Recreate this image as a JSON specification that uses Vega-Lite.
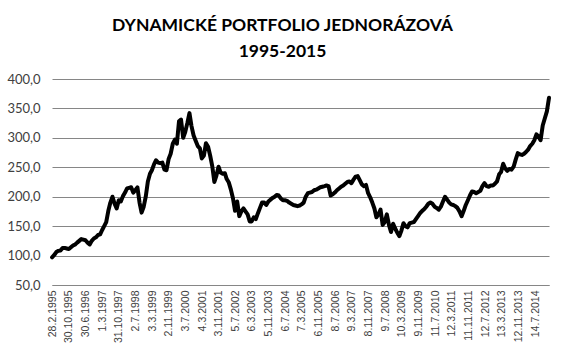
{
  "$schema": "https://vega.github.io/schema/vega-lite/v6.json",
  "autosize": {"type": "none"},
  "padding": {"left": 52, "top": 79, "right": 16, "bottom": 79},
  "width": 497,
  "height": 206,
  "background": "white",
  "config": {"view": {"stroke": null}},
  "title": {
    "text": ["DYNAMICKÉ PORTFOLIO JEDNORÁZOVÁ", "1995-2015"],
    "font": "Lato",
    "fontSize": 17.5,
    "fontWeight": "bold",
    "color": "#000000",
    "anchor": "middle",
    "frame": "group",
    "dx": -18,
    "lineHeight": 26,
    "offset": 13
  },
  "data": {"values": [
    {"date": "1995-02-28", "value": 97},
    {"date": "1995-04-01", "value": 101},
    {"date": "1995-05-01", "value": 106},
    {"date": "1995-06-01", "value": 108},
    {"date": "1995-07-01", "value": 108.5},
    {"date": "1995-08-01", "value": 113},
    {"date": "1995-09-01", "value": 113},
    {"date": "1995-10-01", "value": 112},
    {"date": "1995-11-01", "value": 111},
    {"date": "1995-12-01", "value": 114},
    {"date": "1996-01-01", "value": 117},
    {"date": "1996-02-01", "value": 119},
    {"date": "1996-03-01", "value": 122},
    {"date": "1996-04-01", "value": 125},
    {"date": "1996-05-01", "value": 128},
    {"date": "1996-06-01", "value": 127},
    {"date": "1996-07-01", "value": 126},
    {"date": "1996-08-01", "value": 122},
    {"date": "1996-09-01", "value": 119},
    {"date": "1996-10-01", "value": 125},
    {"date": "1996-11-01", "value": 129},
    {"date": "1996-12-01", "value": 131},
    {"date": "1997-01-01", "value": 135},
    {"date": "1997-02-01", "value": 136},
    {"date": "1997-03-01", "value": 143},
    {"date": "1997-04-01", "value": 150},
    {"date": "1997-05-01", "value": 157},
    {"date": "1997-06-01", "value": 176},
    {"date": "1997-07-01", "value": 190},
    {"date": "1997-08-01", "value": 200},
    {"date": "1997-09-01", "value": 188},
    {"date": "1997-10-01", "value": 180},
    {"date": "1997-11-01", "value": 194},
    {"date": "1997-12-01", "value": 192},
    {"date": "1998-01-01", "value": 201},
    {"date": "1998-02-01", "value": 207},
    {"date": "1998-03-01", "value": 214},
    {"date": "1998-04-01", "value": 215},
    {"date": "1998-05-01", "value": 216},
    {"date": "1998-06-01", "value": 207},
    {"date": "1998-07-01", "value": 211},
    {"date": "1998-08-01", "value": 216},
    {"date": "1998-09-01", "value": 190},
    {"date": "1998-10-01", "value": 173},
    {"date": "1998-11-01", "value": 183},
    {"date": "1998-12-01", "value": 200},
    {"date": "1999-01-01", "value": 226},
    {"date": "1999-02-01", "value": 239},
    {"date": "1999-03-01", "value": 245},
    {"date": "1999-04-01", "value": 255},
    {"date": "1999-05-01", "value": 262},
    {"date": "1999-06-01", "value": 258},
    {"date": "1999-07-01", "value": 257},
    {"date": "1999-08-01", "value": 258},
    {"date": "1999-09-01", "value": 246},
    {"date": "1999-10-01", "value": 245},
    {"date": "1999-11-01", "value": 264},
    {"date": "1999-12-01", "value": 273},
    {"date": "2000-01-01", "value": 290},
    {"date": "2000-02-01", "value": 297},
    {"date": "2000-03-01", "value": 290},
    {"date": "2000-04-01", "value": 328},
    {"date": "2000-05-01", "value": 331},
    {"date": "2000-06-01", "value": 300},
    {"date": "2000-07-01", "value": 310},
    {"date": "2000-08-01", "value": 325},
    {"date": "2000-09-01", "value": 342},
    {"date": "2000-10-01", "value": 320},
    {"date": "2000-11-01", "value": 304},
    {"date": "2000-12-01", "value": 295},
    {"date": "2001-01-01", "value": 286},
    {"date": "2001-02-01", "value": 282},
    {"date": "2001-03-01", "value": 265},
    {"date": "2001-04-01", "value": 270},
    {"date": "2001-05-01", "value": 291},
    {"date": "2001-06-01", "value": 285},
    {"date": "2001-07-01", "value": 270},
    {"date": "2001-08-01", "value": 252},
    {"date": "2001-09-01", "value": 225},
    {"date": "2001-10-01", "value": 236},
    {"date": "2001-11-01", "value": 251},
    {"date": "2001-12-01", "value": 241},
    {"date": "2002-01-01", "value": 239},
    {"date": "2002-02-01", "value": 240},
    {"date": "2002-03-01", "value": 230},
    {"date": "2002-04-01", "value": 224},
    {"date": "2002-05-01", "value": 212},
    {"date": "2002-06-01", "value": 197},
    {"date": "2002-07-01", "value": 176},
    {"date": "2002-08-01", "value": 192},
    {"date": "2002-09-01", "value": 167},
    {"date": "2002-10-01", "value": 175},
    {"date": "2002-11-01", "value": 180},
    {"date": "2002-12-01", "value": 175},
    {"date": "2003-01-01", "value": 170},
    {"date": "2003-02-01", "value": 158},
    {"date": "2003-03-01", "value": 158},
    {"date": "2003-04-01", "value": 165},
    {"date": "2003-05-01", "value": 162},
    {"date": "2003-06-01", "value": 172},
    {"date": "2003-07-01", "value": 181},
    {"date": "2003-08-01", "value": 190},
    {"date": "2003-09-01", "value": 190},
    {"date": "2003-10-01", "value": 186},
    {"date": "2003-11-01", "value": 192},
    {"date": "2003-12-01", "value": 195},
    {"date": "2004-01-01", "value": 198},
    {"date": "2004-02-01", "value": 200},
    {"date": "2004-03-01", "value": 203},
    {"date": "2004-04-01", "value": 202},
    {"date": "2004-05-01", "value": 197},
    {"date": "2004-06-01", "value": 194},
    {"date": "2004-07-01", "value": 194},
    {"date": "2004-08-01", "value": 193},
    {"date": "2004-09-01", "value": 190},
    {"date": "2004-10-01", "value": 188},
    {"date": "2004-11-01", "value": 186},
    {"date": "2004-12-01", "value": 185},
    {"date": "2005-01-01", "value": 184},
    {"date": "2005-02-01", "value": 185},
    {"date": "2005-03-01", "value": 187},
    {"date": "2005-04-01", "value": 190},
    {"date": "2005-05-01", "value": 200},
    {"date": "2005-06-01", "value": 206},
    {"date": "2005-07-01", "value": 207},
    {"date": "2005-08-01", "value": 208},
    {"date": "2005-09-01", "value": 211},
    {"date": "2005-10-01", "value": 212},
    {"date": "2005-11-01", "value": 214},
    {"date": "2005-12-01", "value": 216},
    {"date": "2006-01-01", "value": 217},
    {"date": "2006-02-01", "value": 218},
    {"date": "2006-03-01", "value": 219},
    {"date": "2006-04-01", "value": 218},
    {"date": "2006-05-01", "value": 202},
    {"date": "2006-06-01", "value": 204},
    {"date": "2006-07-01", "value": 207},
    {"date": "2006-08-01", "value": 211},
    {"date": "2006-09-01", "value": 214},
    {"date": "2006-10-01", "value": 217},
    {"date": "2006-11-01", "value": 219},
    {"date": "2006-12-01", "value": 222},
    {"date": "2007-01-01", "value": 225},
    {"date": "2007-02-01", "value": 226},
    {"date": "2007-03-01", "value": 223},
    {"date": "2007-04-01", "value": 229},
    {"date": "2007-05-01", "value": 234},
    {"date": "2007-06-01", "value": 235},
    {"date": "2007-07-01", "value": 228},
    {"date": "2007-08-01", "value": 221},
    {"date": "2007-09-01", "value": 218},
    {"date": "2007-10-01", "value": 220},
    {"date": "2007-11-01", "value": 206},
    {"date": "2007-12-01", "value": 199},
    {"date": "2008-01-01", "value": 190},
    {"date": "2008-02-01", "value": 180},
    {"date": "2008-03-01", "value": 165},
    {"date": "2008-04-01", "value": 170},
    {"date": "2008-05-01", "value": 178},
    {"date": "2008-06-01", "value": 152},
    {"date": "2008-07-01", "value": 157},
    {"date": "2008-08-01", "value": 170},
    {"date": "2008-09-01", "value": 152},
    {"date": "2008-10-01", "value": 140},
    {"date": "2008-11-01", "value": 154},
    {"date": "2008-12-01", "value": 146},
    {"date": "2009-01-01", "value": 139},
    {"date": "2009-02-01", "value": 133},
    {"date": "2009-03-01", "value": 142},
    {"date": "2009-04-01", "value": 155},
    {"date": "2009-05-01", "value": 150},
    {"date": "2009-06-01", "value": 148},
    {"date": "2009-07-01", "value": 155},
    {"date": "2009-08-01", "value": 156},
    {"date": "2009-09-01", "value": 157},
    {"date": "2009-10-01", "value": 162},
    {"date": "2009-11-01", "value": 167},
    {"date": "2009-12-01", "value": 172},
    {"date": "2010-01-01", "value": 176},
    {"date": "2010-02-01", "value": 179},
    {"date": "2010-03-01", "value": 183},
    {"date": "2010-04-01", "value": 188},
    {"date": "2010-05-01", "value": 190},
    {"date": "2010-06-01", "value": 188},
    {"date": "2010-07-01", "value": 183},
    {"date": "2010-08-01", "value": 181},
    {"date": "2010-09-01", "value": 178},
    {"date": "2010-10-01", "value": 183},
    {"date": "2010-11-01", "value": 192},
    {"date": "2010-12-01", "value": 200},
    {"date": "2011-01-01", "value": 195},
    {"date": "2011-02-01", "value": 190},
    {"date": "2011-03-01", "value": 187},
    {"date": "2011-04-01", "value": 186},
    {"date": "2011-05-01", "value": 184},
    {"date": "2011-06-01", "value": 181},
    {"date": "2011-07-01", "value": 175},
    {"date": "2011-08-01", "value": 167},
    {"date": "2011-09-01", "value": 176},
    {"date": "2011-10-01", "value": 186},
    {"date": "2011-11-01", "value": 194},
    {"date": "2011-12-01", "value": 202},
    {"date": "2012-01-01", "value": 209},
    {"date": "2012-02-01", "value": 208},
    {"date": "2012-03-01", "value": 206},
    {"date": "2012-04-01", "value": 208},
    {"date": "2012-05-01", "value": 210},
    {"date": "2012-06-01", "value": 218},
    {"date": "2012-07-01", "value": 223},
    {"date": "2012-08-01", "value": 218},
    {"date": "2012-09-01", "value": 217},
    {"date": "2012-10-01", "value": 219},
    {"date": "2012-11-01", "value": 219},
    {"date": "2012-12-01", "value": 222},
    {"date": "2013-01-01", "value": 226},
    {"date": "2013-02-01", "value": 238},
    {"date": "2013-03-01", "value": 242},
    {"date": "2013-04-01", "value": 256},
    {"date": "2013-05-01", "value": 248},
    {"date": "2013-06-01", "value": 244},
    {"date": "2013-07-01", "value": 247},
    {"date": "2013-08-01", "value": 246},
    {"date": "2013-09-01", "value": 251},
    {"date": "2013-10-01", "value": 263},
    {"date": "2013-11-01", "value": 274},
    {"date": "2013-12-01", "value": 272},
    {"date": "2014-01-01", "value": 271},
    {"date": "2014-02-01", "value": 273},
    {"date": "2014-03-01", "value": 276},
    {"date": "2014-04-01", "value": 280},
    {"date": "2014-05-01", "value": 286},
    {"date": "2014-06-01", "value": 290},
    {"date": "2014-07-01", "value": 296},
    {"date": "2014-08-01", "value": 306},
    {"date": "2014-09-01", "value": 302},
    {"date": "2014-10-01", "value": 296},
    {"date": "2014-11-01", "value": 321},
    {"date": "2014-12-01", "value": 333},
    {"date": "2015-01-01", "value": 345},
    {"date": "2015-02-01", "value": 368}
  ]},
  "mark": {"type": "line", "color": "#000000", "strokeWidth": 4, "strokeJoin": "round", "strokeCap": "round", "clip": false},
  "encoding": {
    "x": {
      "field": "date",
      "type": "temporal",
      "scale": {"domain": ["1995-02-27", "2015-02-01"], "nice": false},
      "axis": {
        "title": null,
        "values": ["1995-02-28", "1995-10-30", "1996-06-30", "1997-03-01", "1997-10-31", "1998-07-02", "1999-03-03", "1999-11-02", "2000-07-03", "2001-03-04", "2001-11-03", "2002-07-05", "2003-03-06", "2003-11-05", "2004-07-06", "2005-03-07", "2005-11-06", "2006-07-08", "2007-03-09", "2007-11-08", "2008-07-09", "2009-03-10", "2009-11-09", "2010-07-11", "2011-03-12", "2011-11-11", "2012-07-12", "2013-03-13", "2013-11-12", "2014-07-14"],
        "format": "%-d.%-m.%Y",
        "labelAngle": -90,
        "labelFont": "Liberation Sans",
        "labelFontSize": 10.5,
        "labelColor": "#404040",
        "labelPadding": 5,
        "labelOverlap": false,
        "labelFlush": false,
        "labelBound": false,
        "ticks": false,
        "grid": false,
        "domain": true,
        "domainColor": "#868686",
        "domainWidth": 1
      }
    },
    "y": {
      "field": "value",
      "type": "quantitative",
      "scale": {"domain": [50, 400], "nice": false, "zero": false},
      "axis": {
        "title": null,
        "values": [50, 100, 150, 200, 250, 300, 350, 400],
        "labelExpr": "replace(format(datum.value, '.1f'), '.', ',')",
        "labelFont": "Lato",
        "labelFontSize": 13,
        "labelColor": "#404040",
        "labelPadding": 12,
        "ticks": false,
        "domain": false,
        "grid": true,
        "gridColor": "#868686",
        "gridWidth": 1
      }
    }
  }
}
